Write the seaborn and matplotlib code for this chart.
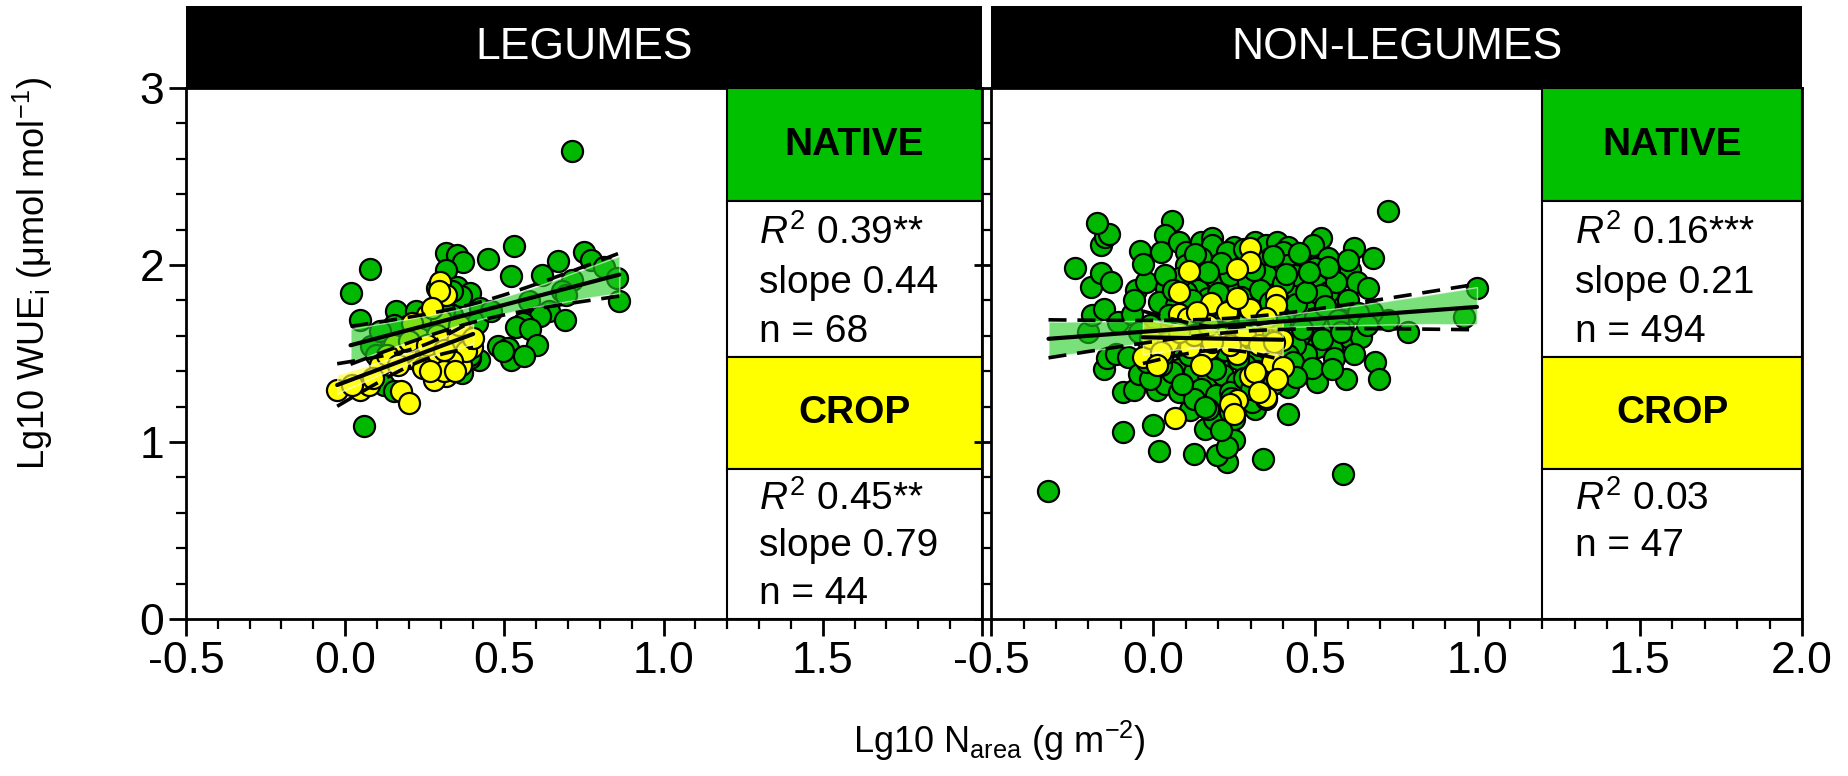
import numpy as np
import pandas as pd
import matplotlib
matplotlib.use("Agg")
import matplotlib.pyplot as plt
from matplotlib.patches import Rectangle
from matplotlib.ticker import MultipleLocator
import seaborn as sns

# -----------------------------
# data (Lg10 Narea, Lg10 WUEi)
# -----------------------------
leg_native_x = [0.711, 0.079, 0.017, 0.048, 0.318, 0.352, 0.371, 0.449, 0.529, 0.318,
                0.520, 0.619, 0.670, 0.751, 0.773, 0.813, 0.854, 0.861, 0.711, 0.681,
                0.694, 0.577, 0.639, 0.611, 0.689, 0.560, 0.537, 0.582, 0.602, 0.479,
                0.512, 0.520, 0.562, 0.352, 0.391, 0.363, 0.290, 0.160, 0.222, 0.200,
                0.267, 0.335, 0.425, 0.413, 0.081, 0.098, 0.177, 0.200, 0.419, 0.391,
                0.368, 0.121, 0.155, 0.059, 0.245, 0.267, 0.290, 0.250, 0.312, 0.155,
                0.458, 0.335, 0.497, 0.391, 0.256, 0.357, 0.110, 0.211]
leg_native_y = [2.642, 1.979, 1.842, 1.691, 2.068, 2.058, 2.015, 2.036, 2.109, 1.974,
                1.940, 1.942, 2.021, 2.073, 2.030, 1.987, 1.927, 1.798, 1.917, 1.851,
                1.832, 1.798, 1.738, 1.710, 1.691, 1.672, 1.648, 1.640, 1.550, 1.540,
                1.531, 1.465, 1.484, 1.874, 1.842, 1.823, 1.870, 1.738, 1.738, 1.663,
                1.701, 1.719, 1.757, 1.672, 1.540, 1.493, 1.606, 1.474, 1.465, 1.474,
                1.390, 1.324, 1.286, 1.089, 1.550, 1.625, 1.776, 1.672, 1.738, 1.663,
                1.738, 1.851, 1.512, 1.493, 1.474, 1.625, 1.625, 1.606]

leg_crop_x = [0.299, 0.318, 0.295, 0.397, 0.340, 0.318, 0.363, 0.278, 0.318, 0.278,
              0.233, -0.025, 0.048, 0.076, 0.177, 0.200, 0.267, 0.301, 0.256, 0.301,
              0.211, 0.335, 0.188, 0.267, 0.380, 0.233, 0.110, 0.155, 0.087, 0.020,
              0.290, 0.357, 0.273, 0.200, 0.245, 0.335, 0.402, 0.132, 0.312, 0.256,
              0.346, 0.267, 0.166, 0.312]
leg_crop_y = [1.904, 1.829, 1.851, 1.535, 1.503, 1.465, 1.433, 1.427, 1.371, 1.352,
              1.456, 1.296, 1.296, 1.324, 1.286, 1.220, 1.522, 1.550, 1.719, 1.691,
              1.672, 1.569, 1.512, 1.474, 1.512, 1.587, 1.437, 1.550, 1.361, 1.324,
              1.606, 1.663, 1.757, 1.569, 1.418, 1.456, 1.587, 1.493, 1.399, 1.550,
              1.399, 1.399, 1.437, 1.522]

non_native_x = [-0.323, 0.586, 0.724, 0.998, 0.957, 0.786, 0.724, 0.674, 0.685, 0.696,
                0.595, 0.506, 0.416, 0.416, 0.338, 0.226, 0.198, 0.248, 0.125, 0.018,
                -0.094, -0.002, 0.114, 0.158, 0.186, 0.248, 0.315, -0.094, -0.060, 0.013,
                0.035, 0.080, -0.153, -0.144, -0.116, -0.079, -0.043, -0.200, -0.189, -0.153,
                -0.110, -0.066, -0.054, -0.021, 0.038, 0.018, -0.242, -0.191, -0.161, -0.130,
                -0.161, -0.150, -0.138, -0.172, -0.041, -0.032, 0.058, 0.035, 0.024, 0.080,
                0.102, 0.147, 0.181, 0.181, 0.248, 0.315, 0.349, 0.382, 0.416, 0.399,
                0.472, 0.517, 0.494, 0.618, 0.676, 0.539, 0.360, 0.461, 0.500, 0.573,
                0.606, 0.629, 0.662, 0.562, 0.506, 0.455, 0.461, 0.388, 0.326, 0.259,
                0.214, 0.158, 0.125, 0.138, 0.226, 0.259, 0.315, 0.404, 0.438, 0.539,
                0.584, 0.539, 0.483, 0.438, 0.405, 0.349, 0.315, 0.170, 0.138, 0.102,
                0.069, 0.080, 0.125, 0.181, 0.237, 0.293, 0.338, 0.382, 0.427, 0.461,
                0.506, 0.551, 0.584, 0.607, 0.641, 0.551, 0.506, 0.472, 0.556, 0.438,
                0.416, 0.371, 0.326, 0.282, 0.237, 0.192, 0.147, 0.102, 0.058, 0.013,
                -0.021, 0.035, -0.010, -0.043, 0.080, 0.125, 0.170, 0.214, 0.259, 0.304,
                0.349, 0.371, 0.147, 0.192, 0.237, 0.282, 0.315, 0.125, 0.058, 0.024,
                -0.010, 0.192, 0.237, 0.293, 0.349, 0.416, 0.438, 0.147, 0.102, 0.226,
                0.293, 0.562, 0.517, 0.214, 0.259, 0.136, 0.192, 0.237, 0.282, 0.326,
                0.371, 0.080, 0.035, 0.237, 0.170, 0.226, 0.304, 0.349,
                0.05, 0.09, 0.12, 0.16, 0.20, 0.23, 0.27, 0.30, 0.33, 0.36,
                0.40, 0.44, 0.47, 0.50, 0.53, 0.57, 0.60, 0.63, 0.07, 0.11,
                0.15, 0.18, 0.22, 0.26, 0.29, 0.32, 0.35, 0.39, 0.43, 0.46,
                0.49, 0.52, 0.55, 0.58, 0.62, 0.66, 0.03, -0.02, 0.09, 0.19,
                0.28, 0.37, 0.44, 0.13, 0.21, 0.28, 0.37, 0.45, 0.54, 0.60,
                0.17, 0.31, 0.41, 0.48, 0.06, -0.06, 0.24, 0.16, 0.30, 0.21]
non_native_y = [0.723, 0.821, 2.306, 1.868, 1.708, 1.623, 1.689, 1.736, 1.453, 1.358,
                1.358, 1.340, 1.311, 1.160, 0.906, 0.887, 0.925, 1.009, 0.934, 0.947,
                1.057, 1.094, 1.179, 1.075, 1.132, 1.132, 1.208, 1.283, 1.292, 1.292,
                1.330, 1.283, 1.415, 1.472, 1.500, 1.481, 1.387, 1.623, 1.717, 1.749,
                1.679, 1.726, 1.858, 1.902, 1.868, 1.792, 1.985, 1.877, 1.953, 1.906,
                2.113, 2.160, 2.174, 2.240, 2.079, 2.004, 2.249, 2.170, 2.075, 2.132,
                2.075, 2.132, 2.151, 2.113, 2.104, 2.132, 2.113, 2.132, 2.104, 2.075,
                2.066, 2.151, 2.113, 2.098, 2.038, 2.038, 2.038, 2.000, 1.981, 1.953,
                1.972, 1.906, 1.868, 1.821, 1.887, 1.915, 1.821, 1.953, 2.019, 1.972,
                1.981, 1.962, 1.906, 1.858, 1.896, 1.849, 1.840, 1.849, 1.868, 1.849,
                1.736, 1.736, 1.736, 1.698, 1.736, 1.736, 1.774, 1.811, 1.755, 1.849,
                1.774, 1.698, 1.698, 1.698, 1.679, 1.698, 1.660, 1.623, 1.623, 1.566,
                1.623, 1.660, 1.670, 1.585, 1.594, 1.528, 1.538, 1.500, 1.472, 1.547,
                1.491, 1.453, 1.491, 1.434, 1.472, 1.491, 1.547, 1.509, 1.547, 1.547,
                1.585, 1.623, 1.660, 1.623, 1.415, 1.396, 1.358, 1.377, 1.340, 1.321,
                1.358, 1.396, 1.302, 1.264, 1.283, 1.245, 1.189, 1.245, 1.396, 1.434,
                1.358, 1.925, 1.943, 1.906, 1.943, 2.000, 1.943, 2.038, 2.000, 2.075,
                2.057, 1.906, 1.830, 1.774, 1.774, 1.623, 1.585, 1.566, 1.566, 1.604,
                1.547, 1.925, 1.943, 1.170, 1.189, 0.972, 1.226, 1.245,
                1.72, 1.66, 1.80, 1.74, 1.84, 1.73, 1.82, 1.75, 1.86, 1.79,
                1.90, 1.78, 1.85, 1.70, 1.77, 1.69, 1.80, 1.73, 1.58, 1.49,
                1.44, 1.62, 1.52, 1.47, 1.60, 1.40, 1.53, 1.67, 1.45, 1.64,
                1.42, 1.58, 1.41, 1.62, 1.50, 1.66, 1.50, 1.45, 1.33, 1.41,
                1.36, 1.33, 1.37, 2.06, 2.01, 2.09, 2.05, 2.07, 1.99, 2.03,
                1.96, 1.97, 1.95, 1.96, 1.86, 1.80, 1.25, 1.20, 1.30, 1.07]

non_crop_x = [0.298, 0.298, 0.257, 0.111, 0.377, 0.377, 0.179, 0.226, 0.298, 0.078,
              0.108, 0.226, 0.304, 0.282, 0.397, 0.170, 0.114, -0.032, 0.147, 0.259,
              0.366, 0.399, 0.298, 0.349, 0.257, 0.237, 0.248, 0.067, -0.010, 0.046,
              0.125, 0.192, 0.237, 0.326, 0.371, 0.181, 0.080, 0.024, 0.315, 0.382,
              0.326, 0.080, 0.259, 0.170, 0.349, 0.136, 0.013]
non_crop_y = [2.098, 2.015, 1.975, 1.966, 1.826, 1.774, 1.783, 1.736, 1.751, 1.726,
              1.698, 1.600, 1.608, 1.604, 1.575, 1.528, 1.538, 1.481, 1.434, 1.500,
              1.453, 1.425, 1.374, 1.255, 1.236, 1.217, 1.160, 1.136, 1.585, 1.566,
              1.604, 1.623, 1.547, 1.547, 1.566, 1.566, 1.623, 1.509, 1.396, 1.358,
              1.283, 1.849, 1.811, 1.660, 1.698, 1.736, 1.434]

panels = ["LEGUMES", "NON-LEGUMES"]
native_stats = [["$R^2$ 0.39**", "slope 0.44", "n = 68"],
                ["$R^2$ 0.16***", "slope 0.21", "n = 494"]]
crop_stats = [["$R^2$ 0.45**", "slope 0.79", "n = 44"],
              ["$R^2$ 0.03", "n = 47"]]

green = "#00b800"
box_green = "#00c000"
yellow = "#ffff00"

sns.set_theme(style="ticks")
plt.rcParams["font.family"] = ["Liberation Sans", "DejaVu Sans"]
plt.rcParams["mathtext.fontset"] = "custom"
plt.rcParams["mathtext.rm"] = "Liberation Sans"
plt.rcParams["mathtext.it"] = "Liberation Sans:italic"
plt.rcParams["axes.unicode_minus"] = False
plt.rcParams["text.color"] = "black"
plt.rcParams["axes.edgecolor"] = "black"
plt.rcParams["xtick.color"] = "black"
plt.rcParams["ytick.color"] = "black"
plt.rcParams["axes.labelcolor"] = "black"

fig = plt.figure(figsize=(18.48, 7.76), dpi=100)
ax1 = fig.add_axes([0.1006, 0.2023, 0.4308, 0.6843])
ax2 = fig.add_axes([0.5363, 0.2023, 0.4388, 0.6843])


def ci95(x, y, grid):
    x = np.asarray(x)
    y = np.asarray(y)
    b, a = np.polyfit(x, y, 1)
    n = len(x)
    res = y - (a + b * x)
    s = np.sqrt(np.sum(res ** 2) / (n - 2))
    sxx = np.sum((x - x.mean()) ** 2)
    se = s * np.sqrt(1 / n + (grid - x.mean()) ** 2 / sxx)
    yh = a + b * grid
    return yh - 1.96 * se, yh + 1.96 * se


def draw_group(ax, x, y, col, fill_alpha):
    df = pd.DataFrame({"x": x, "y": y})
    sns.regplot(data=df, x="x", y="y", ax=ax, scatter=False, ci=90,
                n_boot=500, seed=1, color=col, truncate=True,
                line_kws={"lw": 3})
    ax.collections[-1].set_alpha(fill_alpha)
    ax.collections[-1].set_zorder(4)
    ax.lines[-1].set_color("black")
    ax.lines[-1].set_zorder(6)
    grid = np.linspace(min(x), max(x), 50)
    lo, hi = ci95(x, y, grid)
    ax.plot(grid, lo, color="black", ls=(0, (5, 3)), lw=2.6, zorder=6)
    ax.plot(grid, hi, color="black", ls=(0, (5, 3)), lw=2.6, zorder=6)


data = [(leg_native_x, leg_native_y, leg_crop_x, leg_crop_y),
        (non_native_x, non_native_y, non_crop_x, non_crop_y)]

for i, ax in enumerate([ax1, ax2]):
    nx, ny, cx, cy = data[i]
    sns.scatterplot(x=nx, y=ny, ax=ax, color=green, edgecolor="black",
                    s=230, linewidth=1.6, zorder=2)
    sns.scatterplot(x=cx, y=cy, ax=ax, color=yellow, edgecolor="black",
                    s=230, linewidth=1.6, zorder=3)
    draw_group(ax, nx, ny, "#22cc22", 0.6)
    draw_group(ax, cx, cy, "#ffff33", 0.65)

    ax.set_xlim(-0.5, 2.0)
    ax.set_ylim(0, 3)
    ax.xaxis.set_major_locator(MultipleLocator(0.5))
    ax.xaxis.set_minor_locator(MultipleLocator(0.1))
    ax.yaxis.set_major_locator(MultipleLocator(1))
    ax.yaxis.set_minor_locator(MultipleLocator(0.2))
    ax.xaxis.set_major_formatter(plt.FuncFormatter(lambda v, p: f"{v:.1f}"))
    ax.tick_params(which="major", length=12, width=2, labelsize=32, direction="out")
    ax.tick_params(which="minor", length=7, width=1.6, direction="out")
    for sp in ax.spines.values():
        sp.set_linewidth(2)
    ax.set_xlabel("")
    ax.set_ylabel("")

    # header
    ax.add_patch(Rectangle((0, 1.0), 1, 0.154, transform=ax.transAxes,
                           facecolor="black", edgecolor="none", clip_on=False))
    ax.text(0.5, 1.077, panels[i], transform=ax.transAxes, color="white",
            fontsize=32, ha="center", va="center")

    # statistics boxes
    boxes = [(2.36, 0.64, box_green), (1.48, 0.88, "white"),
             (0.85, 0.63, yellow), (0.0, 0.85, "white")]
    for y0, h, fc in boxes:
        ax.add_patch(Rectangle((1.2, y0), 0.8, h, facecolor=fc,
                               edgecolor="black", lw=1.5, zorder=7))
    ax.text(1.6, 2.68, "NATIVE", fontsize=28, fontweight="bold",
            ha="center", va="center", zorder=8)
    ax.text(1.6, 1.165, "CROP", fontsize=28, fontweight="bold",
            ha="center", va="center", zorder=8)
    for k, line in enumerate(native_stats[i]):
        ax.text(1.30, 2.18 - 0.28 * k, line, fontsize=28, va="center", zorder=8)
    for k, line in enumerate(crop_stats[i]):
        ax.text(1.30, 0.68 - 0.27 * k, line, fontsize=28, va="center", zorder=8)

ax1.set_xticks([-0.5, 0.0, 0.5, 1.0, 1.5, 2.0])
ax1.set_xticklabels(["-0.5", "0.0", "0.5", "1.0", "1.5", ""])
ax1.set_yticks([0, 1, 2, 3])
ax2.set_yticklabels([])

ax1.set_ylabel("Lg10 WUE$_\\mathregular{i}$ (\u03bcmol mol$^\\mathregular{-1}$)", fontsize=26)
ax1.yaxis.set_label_coords(-0.165, 0.65)
fig.text(0.541, 0.045, "Lg10 N$_\\mathregular{area}$ (g m$^\\mathregular{-2}$)",
         fontsize=26, ha="center", va="center")

fig.savefig("out.png", dpi=100)
